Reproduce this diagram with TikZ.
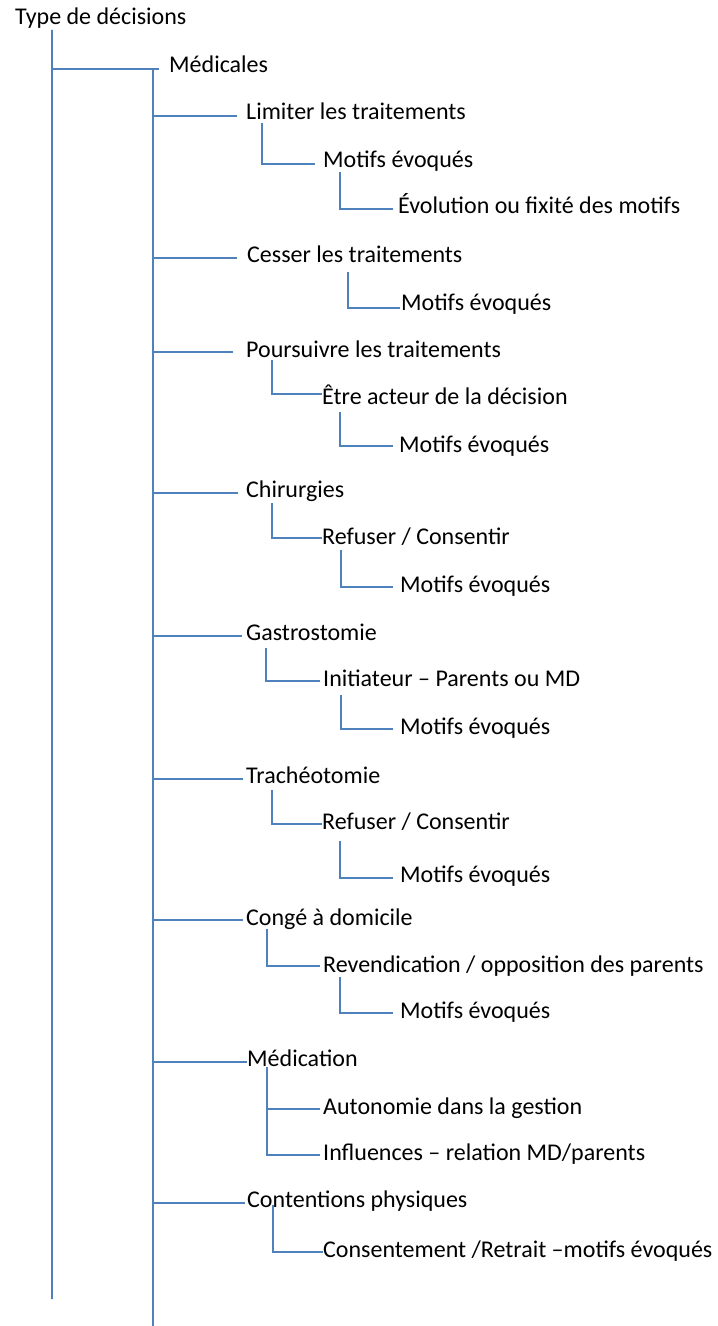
\documentclass[tikz,border=0pt]{standalone}
\usepackage{fontspec}
\setmainfont{Carlito}
\definecolor{linkblue}{RGB}{79,129,189}
\begin{document}
\begin{tikzpicture}[x=1bp,y=-1bp,
  lbl/.style={anchor=base west,inner sep=0pt,font=\fontsize{24bp}{28bp}\selectfont,text=black},
  link/.style={draw=linkblue,line width=1.8bp}]
\useasboundingbox (0,0) rectangle (717,1326);

% labels of the decision tree
\node[lbl] (root) at (15,25) {Type de décisions};
\node[lbl] (med)  at (169,73) {Médicales};
\node[lbl] (lim)  at (246,120) {Limiter les traitements};
\node[lbl] (mot1) at (323,168) {Motifs évoqués};
\node[lbl] (evo)  at (398,214) {Évolution ou fixité des motifs};
\node[lbl] (ces)  at (247,263) {Cesser les traitements};
\node[lbl] (mot2) at (401,311) {Motifs évoqués};
\node[lbl] (pou)  at (246,357) {Poursuivre les traitements};
\node[lbl] (etr)  at (322,404) {Être acteur de la décision};
\node[lbl] (mot3) at (399,452) {Motifs évoqués};
\node[lbl] (chi)  at (246,497) {Chirurgies};
\node[lbl] (ref1) at (322,544) {Refuser / Consentir};
\node[lbl] (mot4) at (400,592) {Motifs évoqués};
\node[lbl] (gas)  at (246,640) {Gastrostomie};
\node[lbl] (ini)  at (323,686) {Initiateur – Parents ou MD};
\node[lbl] (mot5) at (400,734) {Motifs évoqués};
\node[lbl] (tra)  at (246,783) {Trachéotomie};
\node[lbl] (ref2) at (322,829) {Refuser / Consentir};
\node[lbl] (mot6) at (400,882) {Motifs évoqués};
\node[lbl] (con)  at (246,925) {Congé à domicile};
\node[lbl] (rev)  at (323,972) {Revendication / opposition des parents};
\node[lbl] (mot7) at (400,1018) {Motifs évoqués};
\node[lbl] (mdc)  at (247,1066) {Médication};
\node[lbl] (aut)  at (323,1114) {Autonomie dans la gestion};
\node[lbl] (inf)  at (323,1160) {Influences – relation MD/parents};
\node[lbl] (cnt)  at (247,1207) {Contentions physiques};
\node[lbl] (cns)  at (323,1257) {Consentement /Retrait –motifs évoqués};

% open ends of the two main trunks
\coordinate (rootEnd) at (52,1299);
\coordinate (medEnd)  at (153,1326);

% main trunks
\draw[link] ([xshift=37bp,yshift=-5bp]root.base west) -- (rootEnd);
\draw[link] ([xshift=37bp,yshift=-5bp]root.base west) |- ([xshift=-10bp,yshift=4bp]med.base west);
\draw[link] ([xshift=-16bp,yshift=4bp]med.base west) -- (medEnd);

% first-level branches off the "Médicales" trunk
\draw[link] ([xshift=-9bp,yshift=4bp]lim.base west)  -| ([xshift=-16bp,yshift=4bp]med.base west);
\draw[link] ([xshift=-10bp,yshift=5bp]ces.base west) -| ([xshift=-16bp,yshift=4bp]med.base west);
\draw[link] ([xshift=-13bp,yshift=5bp]pou.base west) -| ([xshift=-16bp,yshift=4bp]med.base west);
\draw[link] ([xshift=-8bp,yshift=4bp]chi.base west)  -| ([xshift=-16bp,yshift=4bp]med.base west);
\draw[link] ([xshift=-4bp,yshift=4bp]gas.base west)  -| ([xshift=-16bp,yshift=4bp]med.base west);
\draw[link] ([xshift=-3bp,yshift=4bp]tra.base west)  -| ([xshift=-16bp,yshift=4bp]med.base west);
\draw[link] ([xshift=-3bp,yshift=5bp]con.base west)  -| ([xshift=-16bp,yshift=4bp]med.base west);
\draw[link] ([yshift=4bp]mdc.base west)              -| ([xshift=-16bp,yshift=4bp]med.base west);
\draw[link] ([xshift=-2bp,yshift=4bp]cnt.base west)  -| ([xshift=-16bp,yshift=4bp]med.base west);

% elbow connectors to the sub-items
\draw[link] ([xshift=16bp,yshift=-3bp]lim.base west)  |- ([xshift=-8bp,yshift=4bp]mot1.base west);
\draw[link] ([xshift=17bp,yshift=-4bp]mot1.base west) |- ([xshift=-5bp,yshift=5bp]evo.base west);
\draw[link] ([xshift=101bp,yshift=-9bp]ces.base west) |- ([xshift=-1bp,yshift=3bp]mot2.base west);
\draw[link] ([xshift=26bp,yshift=-3bp]pou.base west)  |- ([yshift=10bp]etr.base west);
\draw[link] ([xshift=18bp,yshift=-8bp]etr.base west)  |- ([xshift=-6bp,yshift=6bp]mot3.base west);
\draw[link] ([xshift=26bp,yshift=-6bp]chi.base west)  |- ([yshift=6bp]ref1.base west);
\draw[link] ([xshift=19bp,yshift=-6bp]ref1.base west) |- ([xshift=-7bp,yshift=5bp]mot4.base west);
\draw[link] ([xshift=20bp,yshift=-8bp]gas.base west)  |- ([xshift=-3bp,yshift=5bp]ini.base west);
\draw[link] ([xshift=18bp,yshift=-9bp]ini.base west)  |- ([xshift=-7bp,yshift=5bp]mot5.base west);
\draw[link] ([xshift=26bp,yshift=-7bp]tra.base west)  |- ([yshift=5bp]ref2.base west);
\draw[link] ([xshift=18bp,yshift=-12bp]ref2.base west) |- ([xshift=-7bp,yshift=4bp]mot6.base west);
\draw[link] ([xshift=21bp,yshift=-4bp]con.base west)  |- ([xshift=-3bp,yshift=6bp]rev.base west);
\draw[link] ([xshift=17bp,yshift=-5bp]rev.base west)  |- ([xshift=-7bp,yshift=5bp]mot7.base west);
\draw[link] ([xshift=20bp,yshift=-1bp]mdc.base west)  |- ([xshift=-3bp,yshift=5bp]aut.base west);
\draw[link] ([xshift=20bp,yshift=-1bp]mdc.base west)  |- ([xshift=-3bp,yshift=5bp]inf.base west);
\draw[link] ([xshift=26bp,yshift=2bp]cnt.base west)   |- ([yshift=5bp]cns.base west);
\end{tikzpicture}
\end{document}
